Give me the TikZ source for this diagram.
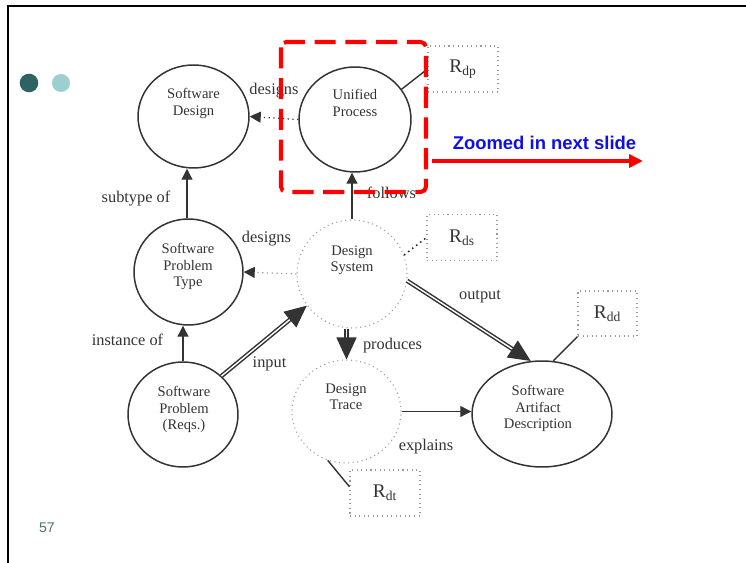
\documentclass[tikz,border=0pt]{standalone}
\usepackage{fontspec}
\setmainfont{Liberation Serif}
\setsansfont{Liberation Sans}
\usetikzlibrary{shapes.geometric,arrows.meta}
\definecolor{ink}{HTML}{333333}
\definecolor{dimgrey}{HTML}{9A9A9A}
\definecolor{darkteal}{HTML}{2F6262}
\definecolor{lightteal}{HTML}{9CCFCF}
\definecolor{slidenum}{HTML}{4A7272}
\definecolor{zoomblue}{HTML}{1010E6}

\begin{document}
\begin{tikzpicture}[x=0.02cm,y=-0.02cm,
    concept/.style={ellipse,draw=ink,line width=0.85pt,inner sep=0pt},
    faint/.style={ellipse,draw=dimgrey,dotted,line width=0.6pt,inner sep=0pt},
    nodetext/.style={anchor=north,inner sep=0pt,align=center,text=ink,font=\fontsize{8.3}{9.4}\selectfont},
    rel/.style={text=ink,inner sep=0pt,font=\fontsize{9.3}{11}\selectfont},
    rbox/.style={draw=dimgrey,dotted,line width=0.6pt,minimum width=1.4cm,minimum height=0.92cm,inner sep=0pt,text=ink,font=\fontsize{11}{13}\selectfont},
    link/.style={draw=ink,line width=0.7pt,-{Triangle[length=0.22cm,width=0.22cm,color=ink]}},
    bigflow/.style={draw=ink,line width=0.85pt,double=white,double distance=0.8pt,-{Triangle[length=0.44cm,width=0.4cm]}},
  ]
  \useasboundingbox (0,0) rectangle (746,563);

  %% Slide frame, bullets and page number
  \draw[line width=1.5pt] (746,6) -- (8,6) -- (8,563);
  \fill[darkteal] (29,83) circle[radius=9.3];
  \fill[lightteal] (61,83) circle[radius=9];
  \node[font=\sffamily\fontsize{8}{9}\selectfont,text=slidenum] (slide-no) at (47,528) {57};

  %% Concepts
  \node[concept,minimum width=2.22cm,minimum height=2.06cm] (sd) at (193.5,116.5) {};
  \node[concept,minimum width=2.24cm,minimum height=2.10cm] (up) at (355,119.5) {};
  \node[concept,minimum width=2.18cm,minimum height=2.12cm] (spt) at (188.5,272) {};
  \node[faint,minimum width=2.20cm,minimum height=2.16cm] (ds) at (352,274) {};
  \node[concept,minimum width=2.20cm,minimum height=2.10cm] (sp) at (183,414.5) {};
  \node[faint,minimum width=2.18cm,minimum height=2.06cm] (dt) at (346.5,411.5) {};
  \node[concept,minimum width=2.80cm,minimum height=2.12cm] (sad) at (542,414) {};

  \node[nodetext] (sd-t) at (193.5,88) {Software\\Design};
  \node[nodetext] (up-t) at (355,89) {Unified\\Process};
  \node[nodetext] (spt-t) at (188,243) {Software\\Problem\\Type};
  \node[nodetext] (ds-t) at (352,245) {Design\\System};
  \node[nodetext] (sp-t) at (184,386) {Software\\Problem\\(Reqs.)};
  \node[nodetext] (dt-t) at (346,383) {Design\\Trace};
  \node[nodetext] (sad-t) at (538,385) {Software\\Artifact\\Description};

  %% Rationale boxes
  \node[rbox] (rdp) at (463,69) {R\textsubscript{dp}};
  \node[rbox] (rds) at (462,237.5) {R\textsubscript{ds}};
  \node[rbox,minimum width=1.18cm,minimum height=0.9cm] (rdd) at (607.5,313.5) {R\textsubscript{dd}};
  \node[rbox] (rdt) at (385,493) {R\textsubscript{dt}};
  \draw[ink,line width=0.8pt] (up.33) -- (rdp.west);
  \draw[ink,dotted,line width=0.9pt] (ds.20) -- (rds.west);
  \draw[ink,line width=0.8pt] (sad.78) -- (rdd.south west);
  \draw[ink,line width=0.8pt] (dt.249) -- (rdt.170);

  %% Relations
  \draw[link] (sp.north) -- (sp.north |- spt.south);
  \draw[link] (spt.north -| 187,0) -- (sd.south -| 187,0);
  \draw[link] (ds.north) -- (ds.north |- up.south);
  \draw[link,dotted] (up.west) -- (sd.east);
  \draw[link,draw=dimgrey,dotted] (ds.west) -- (spt.east);
  \draw[link] (dt.east) -- (dt.east -| sad.west);
  \draw[bigflow] (sp.45) -- (ds.215);
  \draw[bigflow] (ds.-7) -- (sad.102);
  \draw[bigflow] (dt.north |- ds.south) -- (dt.north);

  \node[rel] (l-designs1) at (274,91) {designs};
  \node[rel] (l-subtype) at (136,199) {subtype of};
  \node[rel] (l-designs2) at (266.5,239) {designs};
  \node[rel] (l-instance) at (127.5,340) {instance of};
  \node[rel] (l-input) at (269.5,364) {input};
  \node[rel] (l-produces) at (392.5,346) {produces};
  \node[rel] (l-output) at (480,297) {output};
  \node[rel] (l-explains) at (426,447) {explains};
  \node[rel] (l-follows) at (391.5,193) {follows};

  %% Zoom marker
  \draw[red,line width=2.3pt,dash pattern=on 12pt off 5.5pt,rounded corners=3pt] (281,42) rectangle (426,192);
  \coordinate (zoom-s) at (432,161);
  \coordinate (zoom-e) at (643,161);
  \draw[red,line width=2.3pt,-{Triangle[length=0.28cm,width=0.26cm]}] (zoom-s) -- (zoom-e);
  \node[font=\sffamily\bfseries\fontsize{10.5}{12}\selectfont,text=zoomblue] (zoom-note) at (544.5,143) {Zoomed in next slide};
\end{tikzpicture}
\end{document}
